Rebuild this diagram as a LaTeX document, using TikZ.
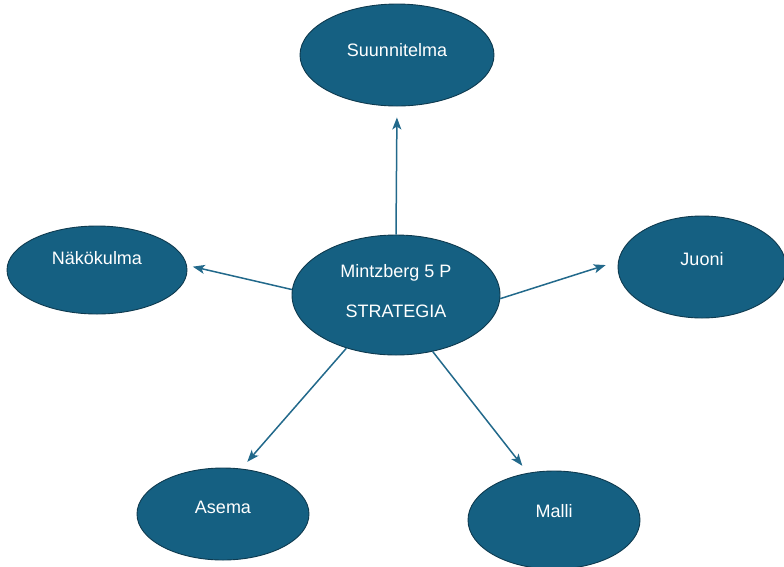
\documentclass[tikz,border=0pt]{standalone}
\usepackage{fontspec}
\setmainfont{Liberation Sans}
\usetikzlibrary{shapes.geometric,arrows.meta}
\definecolor{pfill}{HTML}{156082}
\definecolor{pline}{HTML}{0E3A4F}
\definecolor{parrow}{HTML}{22698B}
\tikzset{
  pnode/.style={ellipse, draw=pline, line width=0.9pt, fill=pfill, text=white,
    inner sep=0pt, font=\fontsize{18}{22}\selectfont, align=center},
  parr/.style={draw=parrow, line width=1.5pt,
    -{Stealth[length=12pt,width=9pt,inset=3pt]}}
}
\newcommand{\up}[2]{\raisebox{#1pt}[\height][\depth]{#2}}
\begin{document}
\begin{tikzpicture}[x=1pt,y=-1pt]
\useasboundingbox (0,0) rectangle (784,566);
\clip (0,0) rectangle (784,566);
\node[pnode, minimum width=194pt, minimum height=102pt] (s) at (397,55) {\up{5}{Suunnitelma}};
\node[pnode, minimum width=208pt, minimum height=120pt] (c) at (396,295)
  {\up{4}{Mintzberg 5 P}\\[18pt]\up{4}{STRATEGIA}};
\node[pnode, minimum width=180pt, minimum height=88pt] (n) at (97,270) {\up{12}{Näkökulma}};
\node[pnode, minimum width=168pt, minimum height=102pt] (j) at (702,267) {\up{8}{Juoni}};
\node[pnode, minimum width=172pt, minimum height=92pt] (a) at (223,514) {\up{7}{Asema}};
\node[pnode, minimum width=172pt, minimum height=98pt] (m) at (554,520) {\up{9}{Malli}};
\draw[parr, shorten >=11pt] (c.90) -- (s.-90);
\draw[parr, shorten >=6pt] (c.177) -- (n.3);
\draw[parr, shorten >=13pt] (c.-2) -- (j.176);
\draw[parr, shorten >=9pt] (c.-133) -- (a.68);
\draw[parr, shorten >=9pt] (c.-57.7) -- (m.119);
\end{tikzpicture}
\end{document}
